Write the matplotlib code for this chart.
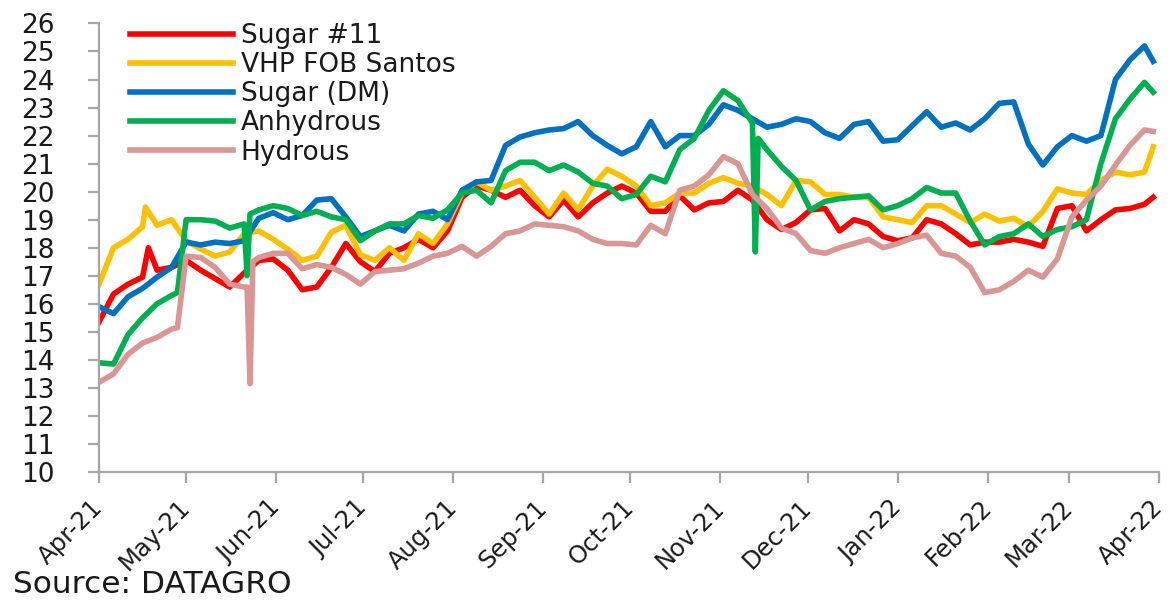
import matplotlib
matplotlib.use('agg')
import matplotlib.pyplot as plt
import pandas as pd

# values every 5 days from 1 Apr 2021 (last point = day 363)
start = pd.Timestamp("2021-04-01")
end = pd.Timestamp("2022-04-01")
days = list(range(0, 361, 5)) + [363]

sugar11 = [15.35, 16.35, 16.7, 16.95, 17.2, 17.3, 17.55, 17.2, 16.9, 16.6, 17.1, 17.55, 17.6, 17.2, 16.5, 16.6, 17.3, 18.15, 17.5,
           17.15, 17.8, 18.0, 18.3, 18.0, 18.6, 19.8, 20.2, 20.05, 19.8, 20.05, 19.5, 19.1, 19.7, 19.1, 19.6, 19.95, 20.2,
           19.95, 19.3, 19.3, 19.85, 19.35, 19.6, 19.65, 20.05, 19.7, 19.0, 18.65, 18.9, 19.35, 19.4, 18.6, 19.0, 18.85, 18.4,
           18.25, 18.35, 19.0, 18.85, 18.5, 18.1, 18.2, 18.2, 18.3, 18.2, 18.05, 19.4, 19.5, 18.6, 19.0, 19.35, 19.4, 19.55, 19.8]
vhp = [16.7, 18.0, 18.3, 18.75, 18.8, 19.0, 18.25, 17.95, 17.7, 17.85, 18.5, 18.6, 18.3, 17.95, 17.55, 17.7, 18.55, 18.8, 17.75,
       17.55, 18.0, 17.55, 18.5, 18.15, 18.85, 19.95, 20.35, 20.05, 20.2, 20.4, 19.8, 19.2, 19.95, 19.35, 20.2, 20.8, 20.55,
       20.2, 19.5, 19.6, 19.95, 19.95, 20.3, 20.5, 20.3, 20.2, 19.9, 19.5, 20.4, 20.35, 19.9, 19.9, 19.8, 19.8, 19.1,
       19.0, 18.9, 19.5, 19.5, 19.2, 18.9, 19.2, 18.95, 19.05, 18.75, 19.3, 20.1, 19.95, 19.9, 20.4, 20.7, 20.6, 20.7, 21.6]
sugar_dm = [15.9, 15.65, 16.25, 16.55, 16.95, 17.3, 18.2, 18.1, 18.2, 18.15, 18.25, 19.05, 19.25, 19.0, 19.15, 19.7, 19.75, 19.1, 18.4,
            18.6, 18.8, 18.6, 19.2, 19.3, 19.0, 20.05, 20.35, 20.4, 21.65, 21.95, 22.1, 22.2, 22.25, 22.5, 22.0, 21.65, 21.35,
            21.6, 22.5, 21.6, 22.0, 22.0, 22.4, 23.1, 22.9, 22.6, 22.3, 22.4, 22.6, 22.5, 22.1, 21.9, 22.4, 22.5, 21.8,
            21.85, 22.35, 22.85, 22.3, 22.45, 22.2, 22.6, 23.15, 23.2, 21.7, 20.95, 21.6, 22.0, 21.8, 22.0, 24.0, 24.7, 25.2, 24.65]
anhydrous = [13.9, 13.85, 14.9, 15.5, 16.0, 16.3, 19.0, 19.0, 18.95, 18.7, 18.85, 19.35, 19.5, 19.4, 19.15, 19.3, 19.1, 19.0, 18.25,
             18.6, 18.85, 18.85, 19.15, 19.05, 19.35, 19.95, 20.05, 19.6, 20.75, 21.05, 21.05, 20.75, 20.95, 20.7, 20.3, 20.2, 19.75,
             19.9, 20.55, 20.35, 21.5, 21.9, 22.9, 23.6, 23.25, 22.45, 21.5, 20.9, 20.4, 19.35, 19.65, 19.75, 19.8, 19.85, 19.35,
             19.5, 19.75, 20.15, 19.95, 19.95, 18.95, 18.1, 18.4, 18.5, 18.85, 18.4, 18.65, 18.75, 19.0, 21.0, 22.6, 23.3, 23.9, 23.55]
hydrous = [13.2, 13.5, 14.2, 14.6, 14.8, 15.1, 17.7, 17.65, 17.3, 16.7, 16.6, 17.65, 17.8, 17.8, 17.25, 17.4, 17.3, 17.05, 16.7,
           17.15, 17.2, 17.25, 17.45, 17.7, 17.8, 18.05, 17.7, 18.05, 18.5, 18.6, 18.85, 18.8, 18.75, 18.6, 18.3, 18.15, 18.15,
           18.1, 18.8, 18.5, 20.05, 20.2, 20.6, 21.25, 21.0, 19.9, 19.4, 18.7, 18.5, 17.9, 17.8, 18.0, 18.15, 18.3, 18.0,
           18.15, 18.35, 18.45, 17.8, 17.7, 17.3, 16.4, 16.5, 16.8, 17.2, 16.95, 17.6, 19.1, 19.7, 20.2, 20.95, 21.65, 22.2, 22.15]

# single-day jumps and spikes between the 5-day points: (day, value)
sugar11_extra = [(17, 18.0)]
vhp_extra = [(16, 19.45)]
anhydrous_extra = [(27, 16.4), (51, 17.0), (52, 19.2), (226, 17.85), (227, 21.9)]
hydrous_extra = [(27, 15.15), (51, 16.6), (52, 13.15), (53, 17.5)]

names = ["Sugar #11", "VHP FOB Santos", "Sugar (DM)", "Anhydrous", "Hydrous"]
colors = ["#FF0000", "#FFC000", "#0070C0", "#00B050", "#D99694"]
series = [sugar11, vhp, sugar_dm, anhydrous, hydrous]
extras = [sugar11_extra, vhp_extra, [], anhydrous_extra, hydrous_extra]


def build(vals, extra):
    s = pd.Series(vals, index=days, dtype=float)
    if extra:
        e = pd.Series([v for _, v in extra], index=[d for d, _ in extra])
        s = pd.concat([s, e]).sort_index()
    return start + pd.to_timedelta(s.index, unit='D'), s.values


# tick look set up front so every tick gets it
plt.rcParams.update({
    'xtick.major.size': 8, 'ytick.major.size': 8,
    'xtick.major.width': 1.6, 'ytick.major.width': 1.6,
    'xtick.color': '#A6A6A6', 'ytick.color': '#A6A6A6',
    'xtick.labelcolor': '#1a1a1a', 'ytick.labelcolor': '#1a1a1a',
    'xtick.labelsize': 17.5, 'ytick.labelsize': 19,
    'xtick.major.pad': 15, 'ytick.major.pad': 24,
})

fig = plt.figure(figsize=(11.7, 6.01), dpi=100)
ax = fig.add_axes([0.0846, 0.2146, 0.906, 0.7464])

for vals, extra, name, col in zip(series, extras, names, colors):
    x, y = build(vals, extra)
    ax.plot(x, y, color=col, lw=4, label=name, solid_joinstyle='round')

ax.set_ylim(10, 26)
ax.set_yticks(range(10, 27))
ax.set_xlim(start, end)
months = pd.date_range(start, end, freq='MS')
ax.set_xticks(months, [m.strftime('%b-%y') for m in months],
              rotation=45, ha='right', va='center', rotation_mode='anchor')

for side in ['top', 'right']:
    ax.spines[side].set_visible(False)
for side in ['left', 'bottom']:
    ax.spines[side].set_color('#A6A6A6')
    ax.spines[side].set_linewidth(1.6)

leg = fig.legend(loc='upper left', bbox_to_anchor=(0.111, 0.962), frameon=False,
                 fontsize=19, handlelength=3.9, handletextpad=0.3, labelspacing=0.12,
                 borderpad=0, borderaxespad=0)
for t in leg.get_texts():
    t.set_color('#1a1a1a')

fig.text(0.011, 0.004, "Source: DATAGRO", fontsize=22.5, color='#1a1a1a', ha='left', va='bottom')

fig.savefig('out.png', dpi=100)
